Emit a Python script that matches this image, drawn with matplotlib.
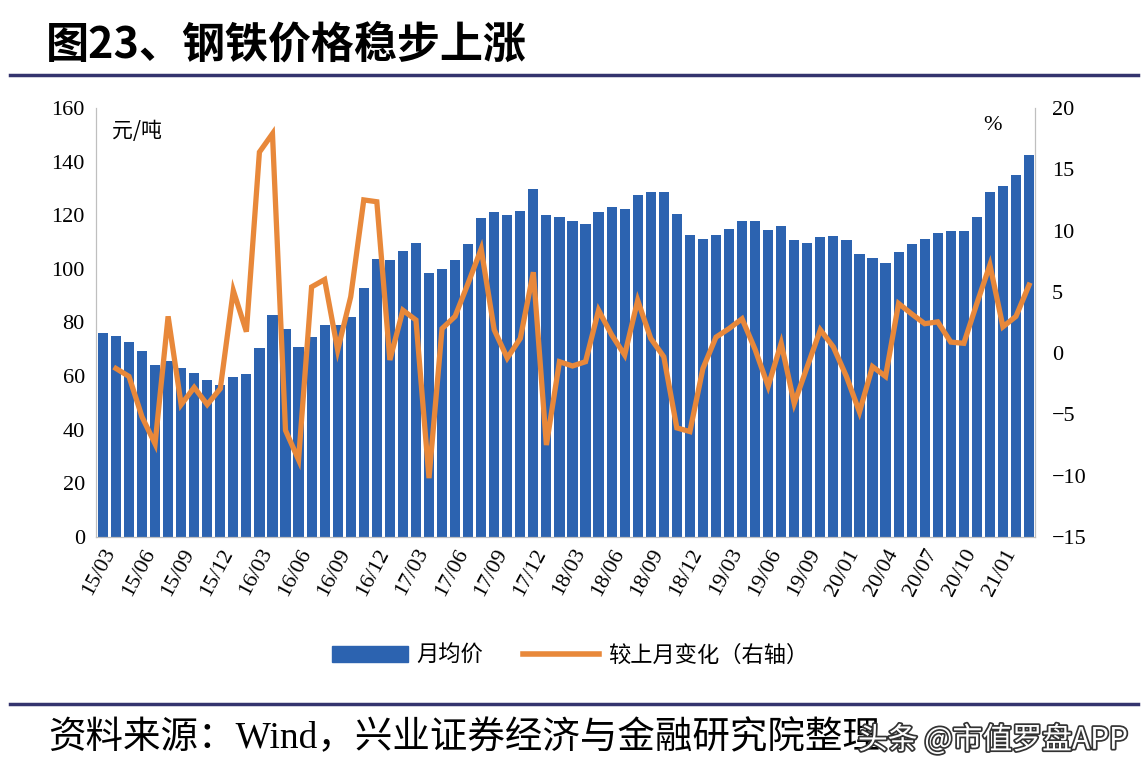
import numpy as np
import matplotlib.pyplot as plt
from matplotlib.patches import Patch
from matplotlib.lines import Line2D
import matplotlib.patheffects as pe

plt.rcParams['font.family'] = ['Noto Sans CJK SC', 'DejaVu Sans']

# monthly average price (left axis), 72 months
price = [76.0, 75.0, 72.9, 69.4, 64.1, 65.8, 63.1, 61.3, 58.6, 56.6, 59.6, 60.6,
         70.6, 82.8, 77.5, 71.0, 74.5, 79.0, 79.2, 82.2, 92.8, 103.6, 103.4, 106.7,
         109.6, 98.4, 100.1, 103.4, 109.3, 118.8, 121.1, 120.1, 121.6, 129.7, 120.1, 119.2,
         117.7, 116.7, 121.1, 122.9, 122.3, 127.6, 128.6, 128.6, 120.6, 112.7, 111.2, 112.7,
         114.8, 117.7, 118.0, 114.6, 115.8, 110.6, 109.8, 111.7, 112.1, 110.6, 105.6, 104.2,
         102.1, 106.2, 109.2, 111.2, 113.5, 114.0, 114.0, 119.5, 128.5, 131.0, 135.0, 142.4]

# change vs previous month, % (right axis); first month has no value
change = [np.nan, -1.25, -1.9, -5.2, -7.4, 3.0, -4.2, -2.8, -4.2, -2.9, 5.1, 1.75,
          16.4, 17.9, -6.3, -8.7, 5.4, 6.0, 0.25, 4.6, 12.5, 12.35, -0.56, 3.5,
          2.7, -10.2, 2.0, 3.0, 5.7, 8.5, 1.9, -0.4, 1.2, 6.6, -7.5, -0.7,
          -1.05, -0.7, 3.5, 1.5, -0.15, 4.3, 1.2, -0.3, -6.1, -6.4, -1.25, 1.3,
          2.0, 2.8, 0.3, -2.7, 0.8, -4.1, -1.1, 1.9, 0.5, -1.9, -4.8, -1.1,
          -1.9, 4.05, 3.2, 2.4, 2.55, 0.9, 0.8, 4.05, 7.2, 2.15, 3.0, 5.55]

tick_labels = ["15/03", "15/06", "15/09", "15/12", "16/03", "16/06", "16/09", "16/12",
               "17/03", "17/06", "17/09", "17/12", "18/03", "18/06", "18/09", "18/12",
               "19/03", "19/06", "19/09", "20/01", "20/04", "20/07", "20/10", "21/01"]

bar_color = "#2C63B0"
line_color = "#E8883A"
serif = "Liberation Serif"

fig = plt.figure(figsize=(11.48, 7.78), dpi=100)
ax = fig.add_axes([0.0836, 0.3098, 0.8180, 0.5514])
x = np.arange(len(price))
ax.bar(x, price, width=0.78, color=bar_color, zorder=2)
ax.set_xlim(-0.53, len(price) - 0.54)
ax.set_ylim(0, 160)
ax.set_yticks(range(0, 161, 20))
ax.set_xticks(x[::3])
ax.set_xticklabels(tick_labels, rotation=62, ha="right", va="top",
                   rotation_mode="anchor", family=serif, fontsize=16)
for lab in ax.get_yticklabels():
    lab.set_family(serif)
    lab.set_fontsize(16)
ax.tick_params(axis="x", length=0, pad=6)
ax.tick_params(axis="y", length=0, pad=8)
ax.spines["top"].set_visible(False)
for s in ["left", "right", "bottom"]:
    ax.spines[s].set_color("#BFBFBF")

ax2 = ax.twinx()
ax2.plot(x, change, color=line_color, linewidth=3.8, solid_joinstyle="miter", zorder=3)
ax2.set_ylim(-15, 20)
ax2.set_yticks(range(-15, 21, 5))
for lab in ax2.get_yticklabels():
    lab.set_family(serif)
    lab.set_fontsize(16)
ax2.tick_params(axis="y", length=0, pad=12)
ax2.spines["top"].set_visible(False)
for s in ["left", "right", "bottom"]:
    ax2.spines[s].set_color("#BFBFBF")

fig.text(112 / 1148, 1 - 131 / 778, "元/吨", fontsize=15, va="center", ha="left")
fig.text(992 / 1148, 1 - 125 / 778, "%", fontsize=16, va="center", ha="center", family=serif)

handles = [Patch(color=bar_color), Line2D([0], [0], color=line_color, linewidth=4)]
fig.legend(handles, ["月均价", "较上月变化（右轴）"], loc="center",
           bbox_to_anchor=(570 / 1148, 1 - 655 / 778), ncol=2, frameon=False,
           fontsize=16, handlelength=3.4, columnspacing=1.8, handletextpad=0.4)

# title, rules and source
fig.text(46 / 1148, 1 - 45 / 778, "图23、钢铁价格稳步上涨", fontsize=31,
         fontweight="bold", va="center", ha="left")
fig.add_artist(Line2D([10 / 1148, 1138 / 1148], [1 - 75 / 778] * 2,
                      color="#34346E", linewidth=2.5))
fig.add_artist(Line2D([10 / 1148, 1138 / 1148], [1 - 704 / 778] * 2,
                      color="#34346E", linewidth=2.5))
fig.text(48 / 1148, 1 - 738 / 778, "资料来源：Wind，兴业证券经济与金融研究院整理",
         fontsize=27, va="center", ha="left", family=[serif, "Noto Sans CJK SC"])
fig.text(1128 / 1148, 1 - 740 / 778, "头条 @市值罗盘APP", fontsize=21.5,
         va="center", ha="right", color="white",
         path_effects=[pe.withStroke(linewidth=2.5, foreground="#333333")])

fig.savefig("out.png", dpi=100)
